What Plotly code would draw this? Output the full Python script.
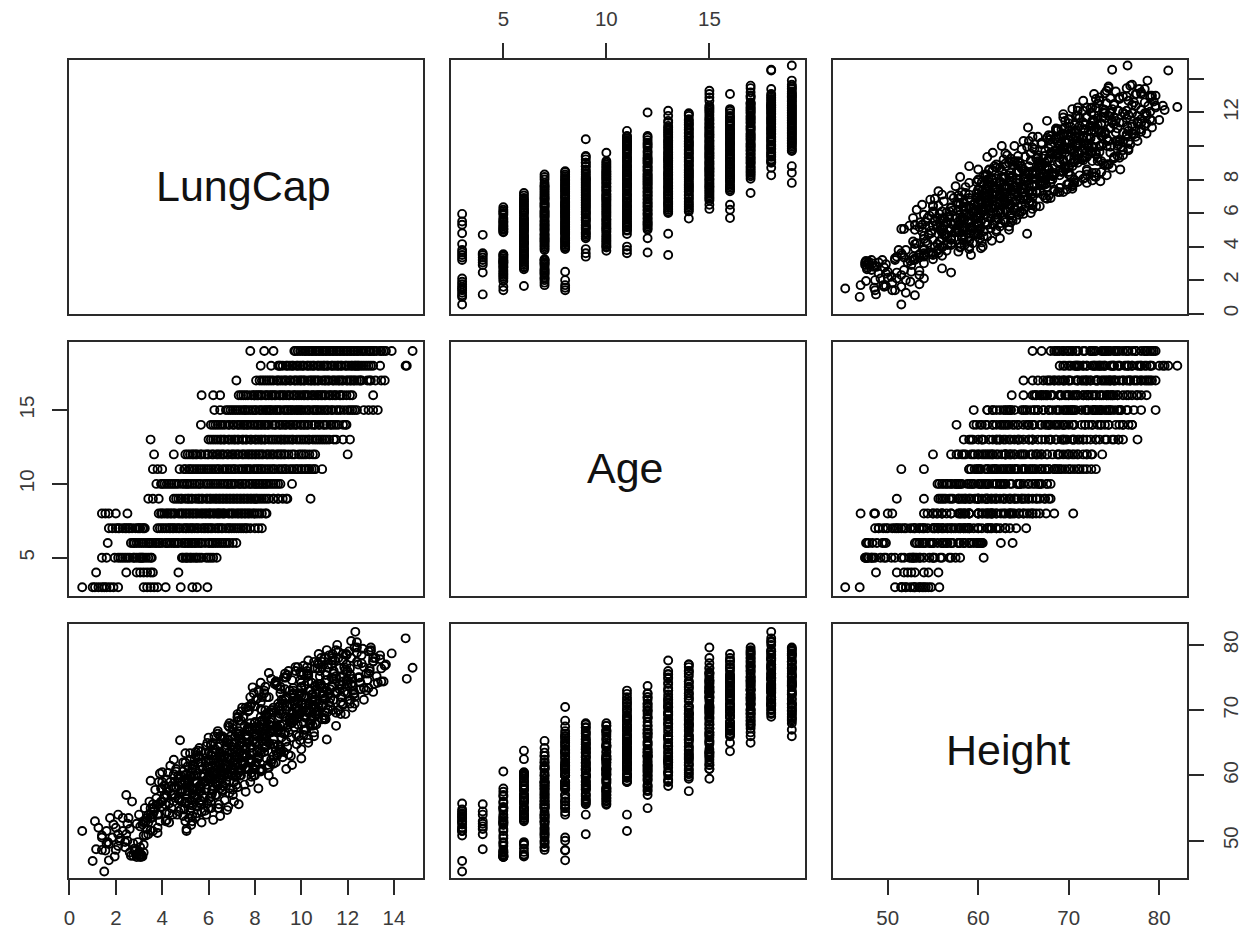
import plotly.graph_objects as go

# (LungCap, Height) pairs, one list per Age
A3 = [(0.55,51.5),(1.0,46.9),(1.5,45.3),(1.25,52.0),(1.1,53.0),(1.4,50.8),(1.6,51.5),(1.75,53.5),(1.9,52.5),(2.1,54.0),(3.2,52.8),(3.35,53.5),(3.5,51.6),(3.65,54.5),(3.8,52.0),(4.15,53.0),(4.8,54.8),(5.5,54.2),(5.95,55.7),(5.3,53.8)]
A4 = [(1.15,48.7),(2.45,51.0),(2.9,52.6),(3.05,52.2),(3.2,53.0),(3.35,51.8),(3.5,54.0),(3.6,55.6),(4.7,54.5)]
A5 = [(1.4,48.6),(1.95,47.6),(2.1,49.2),(2.3,51.5),(2.5,52.6),(2.6,48.2),(2.75,47.7),(2.9,47.5),(3.0,47.8),(3.05,47.5),(3.1,47.9),(3.15,47.6),(3.2,48.2),(3.3,50.8),(3.4,52.8),(3.55,53.5),(4.85,57.5),(5.0,53.0),(5.1,56.0),(5.2,54.6),(5.35,58.0),(5.5,55.2),(4.9,60.6),(5.9,54.0),(6.1,56.8),(6.35,57.0),
      (1.6,49.6),(2.2,50.4),(2.4,49.8),(2.8,48.4),(3.5,55.0),(5.05,51.8),(5.25,52.4),(5.45,53.6),(5.6,55.8),(5.7,52.8),(6.0,55.0),(6.2,53.2)]
A6 = [(1.65,49.8),(2.65,47.7),(2.8,48.8),(2.9,47.9),(3.0,48.3),(3.1,47.6),(3.2,49.4),(3.3,53.0),(3.4,54.0),(3.5,53.5),(3.6,55.0),(3.75,56.5),(3.9,60.3),(4.0,60.5),(4.15,55.5),(4.3,54.2),(4.4,58.4),(4.55,56.6),(4.7,59.5),(4.85,57.9),(5.0,56.0),(5.1,59.2),(5.25,55.0),(5.4,62.5),(5.55,63.8),(5.65,58.5),(6.0,60.0),(6.15,57.2),(6.3,59.0),(6.5,53.8),(6.7,56.2),(6.9,58.0),(7.2,59.8),
      (2.75,49.6),(3.45,56.0),(3.7,57.8),(3.85,59.0),(4.2,57.0),(4.65,54.0),(4.95,54.8),(5.3,57.8),(5.45,60.0),(5.7,56.0),(5.85,54.6),(6.05,56.5),(6.2,60.4),(6.4,55.0),(6.6,58.4),(6.8,54.7),(7.05,57.0),(5.15,53.5),(4.2,53.2),(4.5,60.2)]
A7 = [(1.7,49.5),(1.85,50.5),(2.0,52.0),(2.15,50.0),(2.3,53.5),(2.45,57.0),(2.6,51.8),(2.7,56.0),(2.85,48.6),(2.95,49.8),(3.05,49.0),(3.15,52.5),(3.25,55.0),(3.8,51.2),(4.0,55.2),(4.2,58.0),(4.3,52.8),(4.45,54.0),(4.6,61.0),(4.75,56.2),(4.9,53.8),(5.0,58.8),(5.15,55.5),(5.25,60.0),(5.4,57.0),(5.55,62.0),(5.7,54.4),(5.85,63.5),(6.0,59.5),(6.15,57.8),(6.3,61.5),(6.45,55.6),(6.6,60.4),(6.75,64.2),(6.9,57.3),(7.0,61.2),(7.2,58.6),(7.5,62.0),(7.8,59.0),(8.3,65.3),
      (2.1,51.0),(2.4,49.0),(2.55,53.5),(3.0,54.0),(3.2,50.8),(3.9,53.0),(4.1,56.6),(4.35,59.0),(4.5,62.4),(4.7,58.4),(5.05,51.5),(5.3,53.0),(5.5,59.0),(5.8,56.6),(5.95,61.4),(6.1,55.0),(6.4,58.4),(6.55,63.0),(6.85,55.2),(7.1,56.0),(7.3,55.6),(7.4,60.0),(7.6,57.5),(7.65,63.0),(8.0,61.0),(8.15,58.0)]
A8 = [(1.4,50.5),(1.55,48.5),(1.7,47.0),(2.0,48.6),(2.5,50.0),(3.85,54.0),(4.0,56.0),(4.1,58.5),(4.25,60.4),(4.4,55.0),(4.55,59.0),(4.77,65.4),(4.9,62.0),(5.05,57.0),(5.2,60.0),(5.3,55.4),(5.45,63.0),(5.6,58.0),(5.75,61.0),(5.9,64.5),(6.05,60.5),(6.1,56.0),(6.25,66.0),(6.4,59.0),(6.5,62.8),(6.6,57.8),(6.7,65.7),(6.85,61.5),(7.0,63.5),(7.15,66.0),(7.3,68.4),(7.4,60.8),(7.55,64.0),(7.7,70.5),(7.85,62.5),(8.0,65.0),(8.2,67.5),(8.5,64.5),
      (3.95,58.0),(4.2,54.4),(4.35,61.5),(4.5,57.0),(4.7,60.0),(4.85,56.0),(5.0,63.4),(5.15,58.6),(5.35,61.6),(5.5,56.5),(5.7,55.5),(5.85,59.0),(6.0,63.6),(6.2,58.4),(6.35,61.4),(6.45,55.0),(6.65,60.0),(6.9,59.0),(7.05,62.0),(7.25,58.2),(7.45,65.0),(7.6,61.2),(7.75,66.8),(7.95,60.0),(8.1,63.8),(8.3,61.0),(8.45,66.4)]
A9 = [(3.4,51.0),(3.6,54.0),(3.85,55.6),(4.5,56.0),(4.7,56.4),(4.85,57.8),(5.0,55.8),(5.15,59.0),(5.3,57.2),(5.45,60.8),(5.6,58.4),(5.75,56.8),(5.9,62.0),(6.05,59.6),(6.2,64.0),(6.35,60.4),(6.5,58.0),(6.65,63.0),(6.8,65.0),(6.95,61.0),(7.1,62.4),(7.2,66.5),(7.35,60.0),(7.5,64.4),(7.65,66.0),(7.8,62.0),(7.95,65.5),(8.0,61.5),(8.1,63.5),(8.3,67.8),(8.5,65.2),(8.8,64.8),(9.0,66.8),(9.2,62.8),(9.4,67.3),(10.4,68.0),
      (4.6,58.2),(4.8,60.0),(5.1,61.4),(5.25,56.2),(5.55,62.8),(5.7,60.0),(5.95,58.6),(6.1,64.8),(6.3,57.0),(6.45,61.8),(6.6,65.6),(6.75,59.2),(6.9,63.6),(7.05,57.8),(7.25,64.0),(7.4,61.0),(7.55,58.6),(7.7,67.4),(7.85,59.8),(8.05,66.4),(8.2,60.8),(8.4,64.2),(8.6,60.0),(8.8,59.0),(9.0,63.4),(9.35,61.0)]
A10 = [(3.75,55.5),(3.95,56.0),(4.1,57.0),(4.3,55.7),(4.5,58.2),(4.7,56.5),(4.95,59.2),(5.1,57.6),(5.3,61.0),(5.5,58.8),(5.65,56.2),(5.8,60.2),(6.0,62.5),(6.2,57.8),(6.3,63.5),(6.5,59.5),(6.7,61.6),(6.85,65.5),(7.0,60.4),(7.15,63.0),(7.3,66.8),(7.45,62.0),(7.6,64.3),(7.75,61.0),(7.9,67.0),(8.05,65.0),(8.2,63.7),(8.35,66.3),(8.5,62.6),(8.7,67.6),(9.0,64.6),(9.6,68.0),
       (4.0,58.0),(4.2,59.4),(4.4,57.0),(4.6,60.6),(4.85,57.4),(5.05,60.2),(5.2,62.4),(5.4,56.6),(5.6,63.0),(5.9,58.0),(6.1,64.6),(6.4,61.0),(6.6,57.6),(6.8,62.8),(6.95,66.0),(7.1,59.0),(7.35,64.6),(7.55,67.6),(7.8,62.4),(8.0,60.0),(8.15,66.8),(8.3,60.8),(8.45,64.4),(8.6,61.2),(8.8,65.6),(8.9,62.0),(9.1,66.6)]
A11 = [(3.6,51.5),(3.8,54.0),(4.0,59.0),(4.75,59.6),(4.95,60.0),(5.15,59.2),(5.3,61.0),(5.5,60.3),(5.7,62.0),(5.9,60.8),(6.1,63.2),(6.3,61.4),(6.45,64.8),(6.6,62.4),(6.8,60.2),(7.0,65.0),(7.15,63.6),(7.3,66.4),(7.5,61.8),(7.65,65.6),(7.8,64.2),(8.0,67.4),(8.15,62.8),(8.3,68.4),(8.5,66.0),(8.7,69.6),(8.85,64.4),(9.0,67.0),(9.2,70.6),(9.35,65.2),(9.5,68.8),(9.7,72.0),(9.85,67.8),(10.0,71.0),(10.2,69.2),(10.35,73.0),(10.55,70.2),(10.9,72.5),
       (5.0,62.0),(5.2,63.4),(5.4,59.0),(5.6,64.2),(5.8,59.8),(6.0,65.8),(6.2,60.0),(6.4,66.8),(6.7,64.0),(6.9,67.4),(7.1,61.0),(7.4,68.4),(7.6,63.0),(7.75,70.0),(7.95,61.0),(8.1,65.2),(8.25,71.2),(8.4,63.6),(8.6,67.8),(8.8,61.8),(9.1,64.0),(9.3,69.0),(9.6,61.6),(9.8,66.2),(10.0,62.6),(10.15,67.0),(10.3,65.0),(10.45,68.6),(10.6,71.6)]
A12 = [(3.65,55.0),(4.5,57.0),(5.0,57.6),(5.2,58.4),(5.35,60.0),(5.5,57.8),(5.7,61.4),(5.85,59.2),(6.0,62.2),(6.2,60.6),(6.35,58.6),(6.5,63.4),(6.65,61.0),(6.8,64.6),(7.0,62.6),(7.15,60.0),(7.3,66.0),(7.45,63.0),(7.6,64.0),(7.75,67.0),(7.9,65.2),(8.05,62.0),(8.2,68.2),(8.35,66.4),(8.5,69.4),(8.65,64.8),(8.8,67.6),(9.0,70.4),(9.15,65.8),(9.3,71.6),(9.6,68.8),(9.9,70.0),(10.1,69.0),(10.5,72.0),(10.6,73.7),(12.0,72.5),
       (5.1,59.4),(5.3,61.6),(5.45,63.6),(5.65,58.2),(5.95,65.0),(6.15,63.0),(6.4,66.4),(6.6,59.6),(6.85,67.6),(7.05,60.8),(7.25,68.8),(7.5,61.6),(7.7,69.8),(7.85,60.4),(8.0,70.6),(8.15,63.0),(8.3,72.0),(8.55,61.2),(8.75,70.0),(8.95,63.0),(9.1,72.6),(9.25,63.6),(9.45,66.6),(9.7,71.0),(10.0,64.0),(10.2,67.0),(10.35,71.0)]
A13 = [(3.5,59.2),(4.77,59.0),(6.0,59.4),(6.2,60.4),(6.4,62.0),(6.55,60.0),(6.7,63.0),(6.85,61.2),(7.0,64.4),(7.15,62.4),(7.3,65.6),(7.5,63.4),(7.65,67.0),(7.8,64.6),(8.0,68.0),(8.15,62.8),(8.3,66.0),(8.45,69.2),(8.6,65.0),(8.8,70.4),(9.0,67.4),(9.15,71.6),(9.3,66.6),(9.5,68.6),(9.65,72.4),(9.8,69.8),(10.0,73.4),(10.2,71.0),(10.35,67.8),(10.5,72.0),(10.7,74.0),(10.9,70.6),(11.1,73.0),(11.8,77.6),(12.1,75.5),
       (6.1,62.2),(6.3,64.0),(6.5,66.0),(6.65,58.4),(6.9,68.0),(7.1,60.4),(7.25,69.4),(7.45,61.6),(7.6,70.4),(7.85,62.0),(8.05,71.6),(8.25,60.6),(8.4,73.0),(8.7,62.4),(8.9,74.2),(9.1,63.6),(9.25,75.0),(9.4,64.4),(9.6,70.6),(9.9,66.0),(10.1,75.5),(10.3,65.6),(10.6,69.4),(10.8,76.0),(11.0,68.6),(11.2,71.2),(11.4,74.8),(11.5,69.6)]
A14 = [(5.67,57.6),(6.1,59.5),(6.3,60.8),(6.5,61.6),(6.7,60.2),(6.9,62.8),(7.1,64.0),(7.25,62.0),(7.4,65.0),(7.55,63.2),(7.7,66.2),(7.9,73.5),(8.0,67.4),(8.15,62.6),(8.3,68.4),(8.45,65.6),(8.6,69.6),(8.75,66.8),(8.9,63.8),(9.05,70.6),(9.2,67.8),(9.35,71.8),(9.5,68.6),(9.65,72.6),(9.8,69.4),(10.0,73.6),(10.15,70.4),(10.3,74.4),(10.45,71.4),(10.6,68.0),(10.8,75.2),(10.95,72.2),(11.1,65.5),(11.25,73.2),(11.4,76.0),(11.6,70.0),(11.8,74.4),(11.95,77.0),
       (6.2,62.4),(6.4,64.4),(6.6,66.0),(6.85,59.8),(7.05,67.8),(7.3,60.4),(7.5,69.0),(7.65,61.0),(7.8,70.6),(8.1,71.8),(8.25,63.4),(8.4,72.6),(8.55,61.6),(8.85,74.0),(9.1,64.4),(9.3,75.6),(9.55,63.0),(9.75,76.6),(9.95,65.4),(10.1,67.0),(10.25,76.0),(10.55,66.0),(10.75,69.4),(11.0,68.8),(11.3,77.0),(11.5,67.6),(11.9,69.4)]
A15 = [(6.25,59.5),(6.75,61.0),(6.95,62.4),(7.15,61.6),(7.35,63.6),(7.55,62.8),(7.7,65.0),(7.9,63.4),(8.05,66.2),(8.2,72.8),(8.35,67.2),(8.5,65.2),(8.6,75.7),(8.65,68.2),(8.8,63.0),(8.95,66.6),(9.1,69.4),(9.25,67.8),(9.4,70.6),(9.55,65.8),(9.7,71.4),(9.85,68.8),(10.0,72.2),(10.2,69.8),(10.35,73.0),(10.5,70.8),(10.65,67.8),(10.8,74.0),(11.0,71.8),(11.15,76.5),(11.3,73.6),(11.5,72.6),(11.7,75.0),(12.0,74.6),(12.2,70.4),(12.4,79.6),(12.7,73.4),(12.9,75.6),(13.1,72.8),(13.3,74.2),
       (6.5,63.6),(6.85,65.4),(7.05,67.2),(7.25,69.0),(7.45,70.4),(7.6,61.0),(7.8,72.0),(8.0,61.6),(8.25,70.2),(8.45,73.6),(8.7,62.0),(8.9,74.4),(9.05,64.0),(9.3,73.2),(9.45,63.2),(9.6,74.6),(9.8,64.8),(9.95,75.8),(10.1,66.2),(10.3,75.4),(10.55,66.6),(10.7,77.2),(10.9,68.6),(11.1,69.6),(11.35,78.0),(11.6,70.0),(11.85,72.8),(12.1,76.4),(12.3,72.0)]
A16 = [(5.7,63.7),(6.2,65.0),(6.5,66.0),(7.3,66.4),(7.5,69.0),(7.7,67.2),(7.85,71.0),(8.0,68.2),(8.15,73.0),(8.3,66.8),(8.45,70.0),(8.6,72.0),(8.75,67.6),(8.9,74.4),(9.05,69.0),(9.2,71.0),(9.35,75.0),(9.5,68.2),(9.65,73.0),(9.8,70.4),(10.0,75.4),(10.15,72.2),(10.3,69.6),(10.45,74.2),(10.6,71.6),(10.75,77.0),(10.9,73.4),(11.05,75.4),(11.2,72.6),(11.35,78.6),(11.5,74.8),(11.65,76.4),(11.8,70.8),(12.2,73.8),(13.1,77.5),
       (7.4,69.8),(7.6,66.2),(7.95,72.6),(8.1,67.0),(8.25,74.2),(8.5,69.0),(8.7,74.8),(8.85,67.0),(9.1,73.6),(9.25,66.4),(9.45,76.0),(9.7,67.4),(9.9,72.2),(10.1,68.0),(10.25,76.6),(10.5,67.6),(10.7,70.0),(10.85,78.0),(11.0,69.2),(11.25,70.6),(11.45,77.6),(11.7,72.0),(11.95,74.6),(12.1,71.6)]
A17 = [(7.2,65.0),(8.05,66.0),(8.2,67.2),(8.4,68.4),(8.6,67.8),(8.8,69.6),(9.0,68.8),(9.2,71.4),(9.35,70.0),(9.5,73.0),(9.7,69.0),(9.85,71.8),(10.0,74.2),(10.15,70.8),(10.3,75.6),(10.45,72.4),(10.6,73.6),(10.75,71.0),(10.9,76.6),(11.05,74.6),(11.2,72.4),(11.35,77.6),(11.5,75.2),(11.65,73.2),(11.8,78.6),(12.0,76.0),(12.15,74.0),(12.3,79.6),(12.5,75.0),(12.6,77.2),(12.95,76.4),(13.2,78.0),(13.45,74.4),(13.6,76.8),
       (8.3,70.0),(8.5,72.0),(8.7,66.6),(8.95,73.8),(9.1,67.6),(9.3,75.0),(9.55,68.0),(9.75,76.0),(9.95,69.4),(10.1,76.8),(10.4,68.4),(10.55,77.4),(10.7,69.4),(11.0,78.0),(11.15,70.2),(11.4,71.6),(11.6,79.0),(11.75,72.0),(11.95,78.4),(12.1,71.0),(12.25,73.0),(12.4,78.8),(12.55,73.2),(12.85,74.6),(13.0,79.2)]
A18 = [(8.25,69.0),(8.7,70.0),(9.05,70.6),(9.2,69.4),(9.35,72.0),(9.5,71.0),(9.65,73.4),(9.8,70.2),(9.95,74.6),(10.1,72.0),(10.25,75.6),(10.4,73.0),(10.55,70.8),(10.7,76.4),(10.85,74.0),(11.0,71.6),(11.15,77.0),(11.3,75.0),(11.45,72.8),(11.6,78.0),(11.75,73.8),(11.9,76.2),(12.05,79.0),(12.2,74.8),(12.33,82.0),(12.4,80.4),(12.45,77.0),(12.6,78.4),(12.8,75.6),(13.4,77.8),(14.5,81.0),(14.55,74.8),
       (9.1,73.2),(9.4,75.4),(9.6,69.6),(9.85,76.6),(10.05,70.8),(10.3,77.6),(10.5,71.6),(10.75,78.6),(10.95,72.8),(11.1,79.2),(11.35,73.6),(11.55,80.0),(11.7,71.2),(11.95,74.0),(12.15,80.6),(12.3,72.6),(12.5,75.0),(12.7,76.6),(13.0,79.0),(13.1,78.0),(12.9,73.4),(9.0,71.0)]
A19 = [(7.8,68.0),(8.4,66.0),(8.8,67.0),(9.7,68.4),(9.85,69.4),(10.05,71.0),(10.2,68.8),(10.35,70.0),(10.5,72.4),(10.65,69.8),(10.8,73.6),(10.95,70.8),(11.1,74.6),(11.25,71.8),(11.4,75.6),(11.55,72.8),(11.7,69.4),(11.85,76.6),(12.0,73.8),(12.15,78.0),(12.3,71.0),(12.45,75.0),(12.65,79.4),(12.8,73.0),(12.95,76.0),(13.0,79.6),(13.1,77.4),(13.25,75.2),(13.4,78.4),(13.55,74.4),(13.9,78.7),(14.8,76.5),
       (9.75,70.4),(9.95,72.6),(10.15,73.8),(10.3,75.2),(10.45,69.0),(10.6,76.4),(10.75,70.4),(10.9,77.4),(11.05,68.6),(11.2,78.4),(11.35,70.0),(11.5,79.2),(11.65,74.0),(11.8,71.0),(11.95,78.6),(12.1,75.4),(12.25,72.4),(12.4,77.4),(12.55,74.2),(12.7,71.6),(12.9,79.0),(13.15,74.0),(13.45,76.4),(13.65,77.0)]

AGES = list(range(3, 20))
GROUPS = [A3, A4, A5, A6, A7, A8, A9, A10, A11, A12, A13, A14, A15, A16, A17, A18, A19]

lungcap, age, height = [], [], []
for a, group in zip(AGES, GROUPS):
    for lc, h in group:
        lungcap.append(lc)
        age.append(a)
        height.append(h)

VARIABLES = ["LungCap", "Age", "Height"]
VALUES = [lungcap, age, height]
X_RANGES = [[-0.02, 15.25], [2.46, 19.64], [43.95, 83.07]]
Y_RANGES = [[-0.02, 15.13], [2.41, 19.61], [44.3, 83.2]]
LUNGCAP_TICKS = [0, 2, 4, 6, 8, 10, 12, 14]
LUNGCAP_X_LABELS = ["0", "2", "4", "6", "8", "10", "12", "14"]
LUNGCAP_Y_LABELS = ["0", "2", "4", "6", "8", "", "12", ""]
AGE_TICKS = [5, 10, 15]
HEIGHT_TICKS = [50, 60, 70, 80]

W, H = 1242, 933
LEFTS = [69, 451, 833]
TOPS = [60, 342, 624]
PW, PH = 354, 254
FONT = "Liberation Sans"
INK = "#2a2a2a"
TICK_FONT = dict(family=FONT, size=20.5, color="#3a3a3a")

fig = go.Figure()
layout = {}


def tick_style(standoff):
    return dict(ticks="outside", ticklen=15, tickwidth=1.5, tickcolor=INK,
                showticklabels=True, tickfont=TICK_FONT, ticklabelstandoff=standoff)


def sid(n):
    return "" if n == 1 else str(n)


for row in range(3):
    for col in range(3):
        n = row * 3 + col + 1
        s = sid(n)
        xa = dict(domain=[LEFTS[col] / W, (LEFTS[col] + PW) / W], range=X_RANGES[col],
                  anchor=f"y{s}", showgrid=False, zeroline=False, showline=True,
                  mirror=True, linecolor=INK, linewidth=1.5, showticklabels=False, ticks="")
        ya = dict(domain=[1 - (TOPS[row] + PH) / H, 1 - TOPS[row] / H], range=Y_RANGES[row],
                  anchor=f"x{s}", showgrid=False, zeroline=False, showline=True,
                  mirror=True, linecolor=INK, linewidth=1.5, showticklabels=False, ticks="")
        if row == 2 and col == 0:
            xa.update(tick_style(6), side="bottom", tickmode="array",
                      tickvals=LUNGCAP_TICKS, ticktext=LUNGCAP_X_LABELS, tickangle=0)
        if row == 2 and col == 2:
            xa.update(tick_style(6), side="bottom", tickmode="array",
                      tickvals=HEIGHT_TICKS, ticktext=[str(v) for v in HEIGHT_TICKS], tickangle=0)
            ya.update(tick_style(10), side="right", tickmode="array",
                      tickvals=HEIGHT_TICKS, ticktext=[str(v) for v in HEIGHT_TICKS], tickangle=-90)
        if row == 0 and col == 1:
            xa.update(tick_style(9), side="top", tickmode="array",
                      tickvals=AGE_TICKS, ticktext=[str(v) for v in AGE_TICKS], tickangle=0)
        if row == 0 and col == 2:
            ya.update(tick_style(10), side="right", tickmode="array",
                      tickvals=LUNGCAP_TICKS, ticktext=LUNGCAP_Y_LABELS, tickangle=-90)
        if row == 1 and col == 0:
            ya.update(tick_style(10), side="left", tickmode="array",
                      tickvals=AGE_TICKS, ticktext=[str(v) for v in AGE_TICKS], tickangle=-90)
        layout[f"xaxis{s}"] = xa
        layout[f"yaxis{s}"] = ya
        if row != col:
            fig.add_trace(go.Scatter(
                x=VALUES[col], y=VALUES[row], mode="markers", showlegend=False,
                xaxis=f"x{s}", yaxis=f"y{s}",
                marker=dict(symbol="circle-open", size=8, color="black",
                            line=dict(color="black", width=1.9))))
        else:
            fig.add_trace(go.Scatter(x=[], y=[], mode="markers", showlegend=False,
                                     xaxis=f"x{s}", yaxis=f"y{s}"))

annotations = []
for i, name in enumerate(VARIABLES):
    s = sid(i * 3 + i + 1)
    annotations.append(dict(
        text=name, xref=f"x{s} domain", yref=f"y{s} domain", x=0.493, y=0.504,
        showarrow=False, xanchor="center", yanchor="middle",
        font=dict(family=FONT, size=43, color="#111111")))

fig.update_layout(
    width=W, height=H, autosize=False,
    margin=dict(l=0, r=0, t=0, b=0, autoexpand=False),
    paper_bgcolor="white", plot_bgcolor="white",
    annotations=annotations, **layout)

fig.write_html("out.html", config={"displayModeBar": False},
               post_script="document.body.style.margin='0';")
